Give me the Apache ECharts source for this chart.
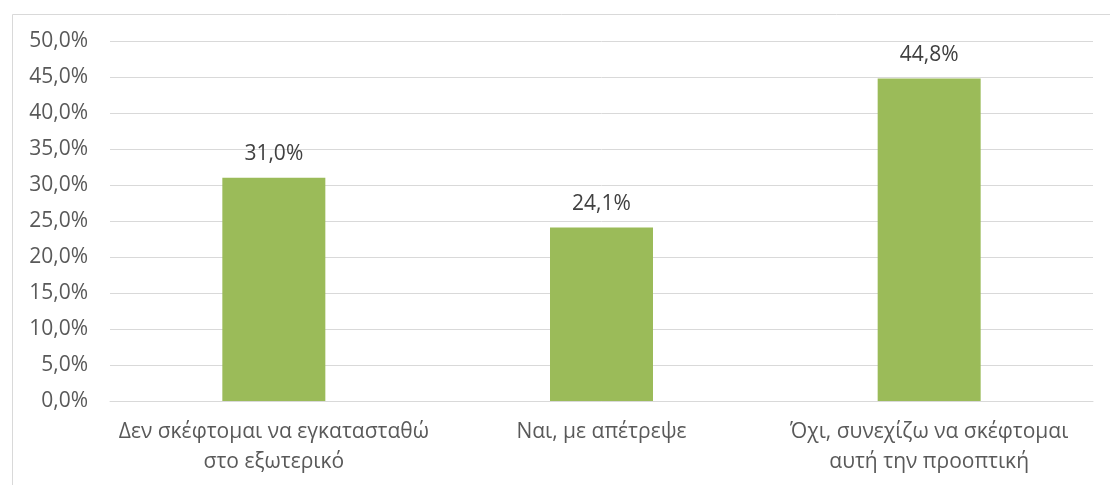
<!DOCTYPE html>
<html>
<head>
<meta charset="utf-8">
<script src="https://cdn.jsdelivr.net/npm/echarts@6/dist/echarts.min.js"></script>
<style>
  html, body { margin: 0; padding: 0; background: #fff; }
  #chart { width: 1110px; height: 485px; }
</style>
</head>
<body>
<div id="chart"></div>
<script>
const categories = [
  'Δεν σκέφτομαι να εγκατασταθώ\nστο εξωτερικό',
  'Ναι, με απέτρεψε',
  'Όχι, συνεχίζω να σκέφτομαι\nαυτή την προοπτική'
]
const values = [31.0, 24.1, 44.8]

const fmt = (v) => v.toFixed(1).replace('.', ',') + '%'

const myChart = echarts.init(document.getElementById('chart'))
myChart.setOption({
  animation: false,
  textStyle: { fontFamily: 'Open Sans, Noto Sans, sans-serif' },
  graphic: [
    {
      type: 'rect',
      left: 10, top: 12,
      shape: { width: 1200, height: 600 },
      style: { fill: 'none', stroke: '#d9d9d9', lineWidth: 1 },
      silent: true
    }
  ],
  grid: { left: 110, right: 17, top: 41, bottom: 84 },
  xAxis: {
    type: 'category',
    data: categories,
    axisTick: { show: false },
    axisLine: { lineStyle: { color: '#d9d9d9', width: 1 } },
    axisLabel: { color: '#595959', fontSize: 21, lineHeight: 30, margin: 16, interval: 0 }
  },
  yAxis: {
    type: 'value',
    min: 0, max: 50, interval: 5,
    axisLine: { show: false },
    axisTick: { show: false },
    splitLine: { lineStyle: { color: '#d9d9d9', width: 1 } },
    axisLabel: { color: '#595959', fontSize: 21, margin: 22, formatter: fmt }
  },
  series: [
    {
      type: 'bar',
      data: values,
      barWidth: 103,
      itemStyle: { color: '#9bbb59' },
      label: {
        show: true,
        position: 'top',
        distance: 13,
        color: '#404040',
        fontSize: 21,
        formatter: (p) => fmt(p.value)
      }
    }
  ]
})
</script>
</body>
</html>
